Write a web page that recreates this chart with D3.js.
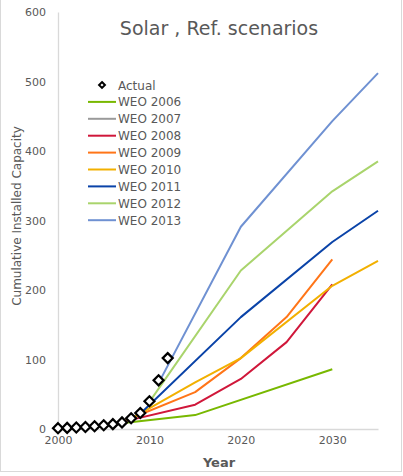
<!DOCTYPE html>
<html><head><meta charset="utf-8">
<script src="https://cdn.jsdelivr.net/npm/d3@7"></script>
<style>body{margin:0;background:#fff}svg{display:block}</style>
</head><body>
<script>
const title = "Solar , Ref. scenarios";
const xTitle = "Year";
const yTitle = "Cumulative Installed Capacity";
const xTicks = [2000, 2010, 2020, 2030];
const yTicks = [0, 100, 200, 300, 400, 500, 600];

const actualYears  = [2000,2001,2002,2003,2004,2005,2006,2007,2008,2009,2010,2011,2012];
const actualValues = [1.2, 1.6, 2.1, 2.8, 3.9, 5.4, 7.0, 9.5, 15.5, 23, 40, 70, 102];

const seriesNames  = ["WEO 2006","WEO 2007","WEO 2008","WEO 2009","WEO 2010","WEO 2011","WEO 2012","WEO 2013"];
const seriesColors = ["#78b800","#9a9a9a","#d0173a","#ff7518","#f2b000","#0a43a8","#a9d46c","#6f91d2"];
const weo2006 = [[2004,4],[2015,20],[2030,86]];
const weo2007 = [];
const weo2008 = [[2006,7],[2015,35],[2020,72],[2025,125],[2030,208]];
const weo2009 = [[2007,10],[2015,53],[2020,102],[2025,161],[2030,244]];
const weo2010 = [[2008,15],[2015,67],[2020,102],[2030,206],[2035,242]];
const weo2011 = [[2009,22],[2020,161],[2030,269],[2035,314]];
const weo2012 = [[2010,39],[2020,228],[2030,342],[2035,385]];
const weo2013 = [[2011,66],[2020,291],[2030,443],[2035,512]];
const seriesData = [weo2006,weo2007,weo2008,weo2009,weo2010,weo2011,weo2012,weo2013];

const W = 403, H = 476;
const svg = d3.select("body").append("svg").attr("width", W).attr("height", H);
const font = "'DejaVu Sans', Verdana, sans-serif";
const grey = "#595959";

svg.append("rect").attr("x",0.5).attr("y",-1).attr("width",401).attr("height",472.5)
  .attr("fill","#fff").attr("stroke","#d9d9d9").attr("stroke-width",1);

const x = d3.scaleLinear().domain([2000,2035]).range([58,378]);
const y = d3.scaleLinear().domain([0,600]).range([429,12]);

// axes
const xAxis = svg.append("g").attr("transform","translate(0,429)")
  .call(d3.axisBottom(x).tickValues(xTicks).tickFormat(d3.format("d")).tickSize(0).tickPadding(7));
const yAxis = svg.append("g").attr("transform","translate(58,0)")
  .call(d3.axisLeft(y).tickValues(yTicks).tickSize(0).tickPadding(12));
[xAxis,yAxis].forEach(a=>{
  a.select(".domain").attr("stroke","#d9d9d9").attr("stroke-width",1.3);
  a.selectAll("text").attr("fill",grey).style("font-family",font).style("font-size","11px");
});

// titles
svg.append("text").attr("x",219).attr("y",35).attr("text-anchor","middle")
  .attr("fill",grey).style("font-family",font).style("font-size","19px").text(title);
svg.append("text").attr("x",219).attr("y",467).attr("text-anchor","middle")
  .attr("fill",grey).style("font-family",font).style("font-size","13px").style("font-weight","bold").text(xTitle);
svg.append("text").attr("transform","translate(21,216) rotate(-90)").attr("text-anchor","middle")
  .attr("fill",grey).style("font-family",font).style("font-size","12px").text(yTitle);

// lines
const line = d3.line().x(d=>x(d[0])).y(d=>y(d[1]));
seriesData.forEach((s,i)=>{
  if (!s.length) return;
  svg.append("path").datum(s).attr("d",line).attr("fill","none")
    .attr("stroke",seriesColors[i]).attr("stroke-width",2).attr("stroke-linejoin","round");
});

// actual diamonds
const diamond = d3.symbol().type(d3.symbolDiamond2).size(64);
svg.append("g").selectAll("path").data(actualYears.map((yr,i)=>[yr,actualValues[i]]))
  .join("path").attr("d",diamond)
  .attr("transform",d=>`translate(${x(d[0])},${y(d[1])})`)
  .attr("fill","#fff").attr("stroke","#000").attr("stroke-width",2.2);

// legend
const lg = svg.append("g");
const rowY = i => 85 + i*16.9;
lg.append("path").attr("d",d3.symbol().type(d3.symbolDiamond2).size(22))
  .attr("transform",`translate(102,${rowY(0)})`).attr("fill","#fff").attr("stroke","#000").attr("stroke-width",2);
lg.append("text").attr("x",118).attr("y",rowY(0)+4.5).attr("fill",grey)
  .style("font-family",font).style("font-size","12px").text("Actual");
seriesNames.forEach((n,i)=>{
  const yy = rowY(i+1);
  lg.append("line").attr("x1",88).attr("x2",116).attr("y1",yy).attr("y2",yy)
    .attr("stroke",seriesColors[i]).attr("stroke-width",2);
  lg.append("text").attr("x",118).attr("y",yy+4.5).attr("fill",grey)
    .style("font-family",font).style("font-size","12px").text(n);
});
</script>
</body></html>
